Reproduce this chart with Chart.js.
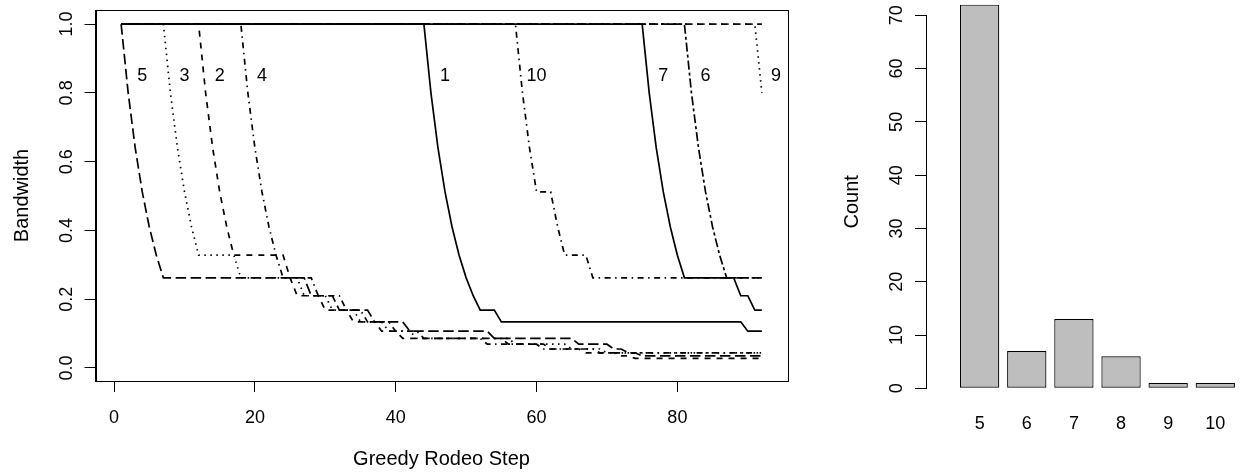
<!DOCTYPE html>
<html>
<head>
<meta charset="utf-8">
<script src="https://cdn.jsdelivr.net/npm/chart.js@4.4.1/dist/chart.umd.min.js"></script>
<style>
  body { margin: 0; background: #fff; }
  #wrap { position: relative; width: 1244px; height: 472px; }
  canvas { position: absolute; top: 0; }
</style>
</head>
<body>
<div id="wrap">
  <canvas id="rodeo" width="830" height="472" style="left:0;width:830px;height:472px"></canvas>
  <canvas id="counts" width="414" height="472" style="left:830px;width:414px;height:472px"></canvas>
</div>
<script>
// bandwidth paths, [step, bandwidth] at each corner of the path
const bw1 = [[1,1],[44,1],[45,.8],[46,.64],[47,.512],[48,.41],[49,.328],[50,.262],[51,.21],[52,.168],[54,.168],[55,.134],[89,.134],[90,.107],[92,.107]];
const bw2 = [[1,1],[12,1],[13,.8],[14,.64],[15,.512],[16,.41],[17,.328],[24,.328],[25,.262],[26,.21],[29,.21],[30,.168],[33,.168],[34,.134],[37,.134],[38,.107],[40,.107],[41,.086],[55,.086],[56,.069],[61,.069],[62,.055],[66,.055],[67,.044],[71,.044],[72,.035],[73,.035],[74,.028],[92,.028]];
const bw3 = [[1,1],[7,1],[8,.8],[9,.64],[10,.512],[11,.41],[12,.328],[17,.328],[18,.262],[26,.262],[27,.21],[30,.21],[31,.168],[34,.168],[35,.134],[38,.134],[39,.107],[42,.107],[43,.086],[56,.086],[57,.069],[64,.069],[65,.055],[69,.055],[70,.044],[92,.044]];
const bw4 = [[1,1],[18,1],[19,.8],[20,.64],[21,.512],[22,.41],[23,.328],[24,.262],[28,.262],[29,.21],[32,.21],[33,.168],[35,.168],[36,.134],[39,.134],[40,.107],[43,.107],[44,.086],[52,.086],[53,.069],[60,.069],[61,.055],[68,.055],[69,.044],[92,.044]];
const bw5 = [[1,1],[2,.8],[3,.64],[4,.512],[5,.41],[6,.328],[7,.262],[27,.262],[28,.21],[31,.21],[32,.168],[36,.168],[37,.134],[41,.134],[42,.107],[53,.107],[54,.086],[65,.086],[66,.069],[70,.069],[71,.055],[72,.055],[73,.044],[74,.044],[75,.035],[92,.035]];
const bw6 = [[1,1],[81,1],[82,.8],[83,.64],[84,.512],[85,.41],[86,.328],[87,.262],[92,.262]];
const bw7 = [[1,1],[75,1],[76,.8],[77,.64],[78,.512],[79,.41],[80,.328],[81,.262],[88,.262],[89,.21],[90,.21],[91,.168],[92,.168]];
const bw8 = [[1,1],[92,1]];
const bw9 = [[1,1],[91,1],[92,.8]];
const bw10 = [[1,1],[57,1],[58,.8],[59,.64],[60,.512],[62,.512],[63,.41],[64,.328],[67,.328],[68,.262],[92,.262]];

// curve labels written inside the plot
const curveLabels = ['5', '3', '2', '4', '1', '10', '7', '6', '9'];
const curveLabelSteps = [4, 10, 15, 21, 47, 60, 78, 84, 94];
const curveLabelLevel = 0.85;

const stepTicks = [0, 20, 40, 60, 80];
const bandTicks = [0, 0.2, 0.4, 0.6, 0.8, 1.0];

// right panel
const countCats = ['5', '6', '7', '8', '9', '10'];
const countVals = [72, 7, 13, 6, 1, 1];

Chart.defaults.font.family = "'Liberation Sans', Arial, sans-serif";
Chart.defaults.font.size = 18;
Chart.defaults.color = '#000';

// R line types at lwd 1
const LTY = {
  solid: [],
  dashed: [6, 6],
  dotted: [1.5, 4.5],
  dotdash: [1.5, 4.5, 6, 4.5],
  longdash: [10.5, 4.5],
  twodash: [3, 3, 9, 3]
};
const ltyCycle = ['solid', 'dashed', 'dotted', 'dotdash', 'longdash', 'twodash'];

// no extra room for the rotated end labels
function noPad(s) {
  s.paddingTop = 0;
  s.paddingBottom = 0;
}

const boxPlugin = {
  id: 'box',
  afterDraw(chart) {
    const a = chart.chartArea, ctx = chart.ctx;
    ctx.save();
    ctx.strokeStyle = '#000';
    ctx.lineWidth = 1;
    ctx.strokeRect(Math.round(a.left) + 0.5, Math.round(a.top) + 0.5,
      Math.round(a.right - a.left), Math.round(a.bottom - a.top));
    ctx.restore();
  }
};

const curveTextPlugin = {
  id: 'curveText',
  afterDatasetsDraw(chart) {
    const ctx = chart.ctx, xs = chart.scales.x, ys = chart.scales.y;
    ctx.save();
    ctx.font = "18px 'Liberation Sans', Arial, sans-serif";
    ctx.fillStyle = '#000';
    ctx.textAlign = 'center';
    ctx.textBaseline = 'middle';
    curveLabels.forEach((t, i) => {
      ctx.fillText(t, xs.getPixelForValue(curveLabelSteps[i]), ys.getPixelForValue(curveLabelLevel));
    });
    ctx.restore();
  }
};

function rodeoChart() {
  const curves = [bw1, bw2, bw3, bw4, bw5, bw6, bw7, bw8, bw9, bw10];
  const datasets = curves.map((c, i) => ({
    label: String(i + 1),
    data: c.map(p => ({ x: p[0], y: p[1] })),
    borderColor: '#000',
    borderWidth: 1.7,
    borderDash: LTY[ltyCycle[i % 6]],
    pointRadius: 0,
    tension: 0,
    fill: false
  }));

  new Chart(document.getElementById('rodeo'), {
    type: 'line',
    data: { datasets },
    options: {
      responsive: false,
      animation: false,
      layout: { padding: { left: 0, top: 10, right: 42.5, bottom: 0 } },
      plugins: { legend: { display: false }, tooltip: { enabled: false } },
      scales: {
        x: {
          type: 'linear',
          min: -2.64, max: 95.64,
          afterBuildTicks: s => { s.ticks = stepTicks.map(v => ({ value: v })); },
          afterFit: s => { s.height = 91; s.paddingLeft = 0; s.paddingRight = 0; },
          ticks: { padding: 15, maxRotation: 0, autoSkip: false, callback: v => String(v) },
          grid: { drawOnChartArea: false, drawTicks: true, tickLength: 11, color: '#000' },
          border: { display: true, color: '#000' },
          title: { display: true, text: 'Greedy Rodeo Step', font: { size: 20 }, padding: { top: 0, bottom: 1 } }
        },
        y: {
          type: 'linear',
          min: -0.038, max: 1.041,
          afterBuildTicks: s => { s.ticks = bandTicks.map(v => ({ value: v })); },
          afterFit: s => { s.width = 95.5; noPad(s); },
          ticks: { padding: 5, minRotation: 90, maxRotation: 90, crossAlign: 'center', autoSkip: false,
                   callback: v => v.toFixed(1) },
          grid: { drawOnChartArea: false, drawTicks: true, tickLength: 11, color: '#000' },
          border: { display: true, color: '#000' },
          title: { display: true, text: 'Bandwidth', font: { size: 20 }, padding: { top: 10, bottom: 0 } }
        }
      }
    },
    plugins: [boxPlugin, curveTextPlugin]
  });
}

function countChart() {
  new Chart(document.getElementById('counts'), {
    type: 'bar',
    data: {
      datasets: [{
        data: countVals.map((v, i) => ({ x: i, y: v })),
        backgroundColor: '#bebebe',
        borderColor: '#000',
        borderWidth: 1.2,
        borderSkipped: false,
        categoryPercentage: 1,
        barPercentage: 0.834,
        clip: false
      }]
    },
    options: {
      responsive: false,
      animation: false,
      layout: { padding: { left: 0, top: 15.3, right: 0, bottom: 0 } },
      plugins: { legend: { display: false }, tooltip: { enabled: false } },
      scales: {
        x: {
          type: 'linear',
          offset: false,
          min: -1.138, max: 5.609,
          afterBuildTicks: s => { s.ticks = countCats.map((c, i) => ({ value: i })); },
          afterFit: s => { s.height = 83.7; s.paddingLeft = 0; s.paddingRight = 0; },
          ticks: { padding: 24.9, maxRotation: 0, autoSkip: false, callback: v => countCats[v] },
          grid: { display: false, drawTicks: false },
          border: { display: false }
        },
        y: {
          min: 0, max: 70,
          afterFit: s => { s.width = 96; noPad(s); },
          ticks: { stepSize: 10, padding: 8, minRotation: 90, maxRotation: 90, crossAlign: 'center' },
          grid: { drawOnChartArea: false, drawTicks: true, tickLength: 11, color: '#000' },
          border: { display: true, color: '#000' },
          title: { display: true, text: 'Count', font: { size: 20 }, padding: { top: 10, bottom: 0 } }
        }
      }
    }
  });
}

rodeoChart();
countChart();
</script>
</body>
</html>
